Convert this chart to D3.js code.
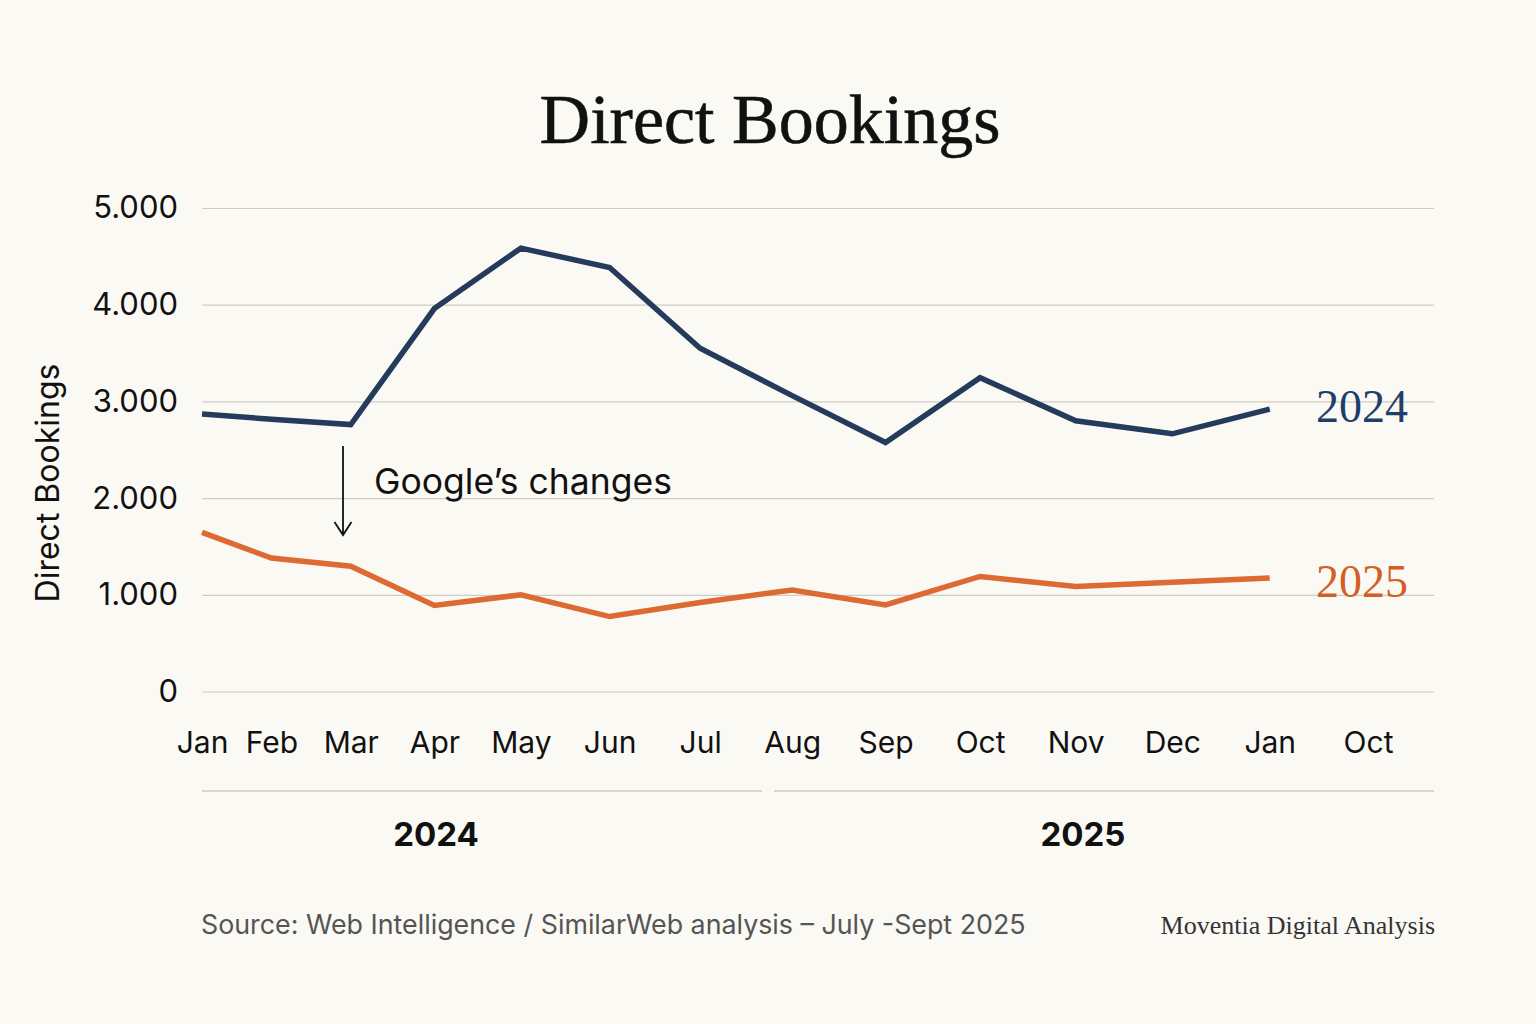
<!DOCTYPE html>
<html>
<head>
<meta charset="utf-8">
<script src="https://cdn.jsdelivr.net/npm/d3@7"></script>
<style>
  html, body { margin: 0; padding: 0; background: #fbf9f4; }
  #chart { width: 1536px; height: 1024px; }
</style>
</head>
<body>
<div id="chart"></div>
<script>
// Chart data
const months = ["Jan", "Feb", "Mar", "Apr", "May", "Jun", "Jul", "Aug", "Sep", "Oct", "Nov", "Dec", "Jan", "Oct"];
const bookings2024 = [2870, 2815, 2760, 3960, 4585, 4385, 3550, 3060, 2575, 3245, 2800, 2665, 2920];
const bookings2025 = [1645, 1380, 1295, 890, 1000, 775, 920, 1050, 895, 1190, 1085, 1130, 1175];
const yTicks = [0, 1000, 2000, 3000, 4000, 5000];
const years = ["2024", "2025"];

const width = 1536;
const height = 1024;
const navy = "#243b5c";
const orange = "#dc6a32";
const sans = "Inter, 'Liberation Sans', Arial, sans-serif";
const serif = "'Liberation Serif', 'Times New Roman', serif";

const svg = d3.select("#chart").append("svg")
              .attr("width", width)
              .attr("height", height);

svg.append("rect")
    .attr("width", width)
    .attr("height", height)
    .attr("fill", "#fbf9f4");

// Month positions get slightly wider towards the right
const x = d3.scalePow().exponent(1.1)
            .domain([ 0, months.length - 1 ])
            .range([ 202, 1368 ]);

const y = d3.scaleLinear()
            .domain([ 0, 5000 ])
            .range([ 691.5, 208 ]);

const fmt = v => d3.format(",")(v).replace(/,/g, ".");

// Title
svg.append("text")
    .attr("x", 770)
    .attr("y", 143)
    .attr("text-anchor", "middle")
    .attr("font-family", serif)
    .attr("font-size", 70)
    .attr("fill", "#111")
    .attr("stroke", "#111")
    .attr("stroke-width", 0.6)
    .text("Direct Bookings");

// Gridlines + y labels
const grid = svg.append("g")
                .attr("transform", "translate(202,0)")
                .call(d3.axisLeft(y).tickValues(yTicks).tickSize(-1232).tickFormat(fmt).tickPadding(24));
grid.select(".domain").remove();
grid.selectAll(".tick line").attr("stroke", "#cfccc6").attr("stroke-width", 1.2);
grid.selectAll(".tick text")
    .attr("font-family", sans)
    .attr("font-size", 31)
    .attr("fill", "#111");

// Y axis title
svg.append("text")
    .attr("transform", "translate(59,483) rotate(-90)")
    .attr("text-anchor", "middle")
    .attr("font-family", sans)
    .attr("font-size", 32)
    .attr("fill", "#111")
    .text("Direct Bookings");

// Month labels
const xAxis = svg.append("g")
                 .attr("transform", "translate(0,720)")
                 .call(d3.axisBottom(x).tickValues(d3.range(months.length)).tickSize(0).tickFormat(i => months[i]));
xAxis.select(".domain").remove();
xAxis.selectAll(".tick text")
    .attr("dy", "1em")
    .attr("font-family", sans)
    .attr("font-size", 30)
    .attr("fill", "#111");

// Year brackets
const split = 768;
const bands = [ [ 202, split - 6 ], [ split + 6, 1434 ] ];
bands.forEach((b, i) => {
  svg.append("line")
      .attr("x1", b[0]).attr("x2", b[1])
      .attr("y1", 791).attr("y2", 791)
      .attr("stroke", "#cfccc6")
      .attr("stroke-width", 1.5);
  svg.append("text")
      .attr("x", i === 0 ? 436 : 1083)
      .attr("y", 846)
      .attr("text-anchor", "middle")
      .attr("font-family", sans)
      .attr("font-weight", "bold")
      .attr("font-size", 33)
      .attr("fill", "#111")
      .text(years[i]);
});

// Lines
const line = d3.line()
               .x((d, i) => x(i))
               .y(d => y(d));

svg.append("path")
    .datum(bookings2024)
    .attr("d", line)
    .attr("fill", "none")
    .attr("stroke", navy)
    .attr("stroke-width", 5.5)
    .attr("stroke-linejoin", "miter");

svg.append("path")
    .datum(bookings2025)
    .attr("d", line)
    .attr("fill", "none")
    .attr("stroke", orange)
    .attr("stroke-width", 5.5)
    .attr("stroke-linejoin", "miter");

// Series labels
const last = bookings2024.length - 1;
svg.append("text")
    .attr("x", 1316)
    .attr("y", y(bookings2024[last]) + 13)
    .attr("font-family", serif)
    .attr("font-size", 46)
    .attr("fill", "#1f3f6b")
    .text(years[0]);

svg.append("text")
    .attr("x", 1316)
    .attr("y", y(bookings2025[last]) + 19)
    .attr("font-family", serif)
    .attr("font-size", 46)
    .attr("fill", "#d45f25")
    .text(years[1]);

// Annotation arrow
const ax = 343;
svg.append("path")
    .attr("d", `M${ax},446 L${ax},535 M${ax - 8.5},522 L${ax},535 L${ax + 8.5},522`)
    .attr("fill", "none")
    .attr("stroke", "#111")
    .attr("stroke-width", 1.8);

svg.append("text")
    .attr("x", 374)
    .attr("y", 494)
    .attr("font-family", sans)
    .attr("font-size", 35.5)
    .attr("fill", "#111")
    .text("Google’s changes");

// Footer
svg.append("text")
    .attr("x", 201)
    .attr("y", 934)
    .attr("font-family", sans)
    .attr("font-size", 26.8)
    .attr("fill", "#555")
    .text("Source: Web Intelligence / SimilarWeb analysis – July -Sept 2025");

svg.append("text")
    .attr("x", 1435)
    .attr("y", 934)
    .attr("text-anchor", "end")
    .attr("font-family", serif)
    .attr("font-size", 26)
    .attr("fill", "#333")
    .text("Moventia Digital Analysis");
</script>
</body>
</html>
